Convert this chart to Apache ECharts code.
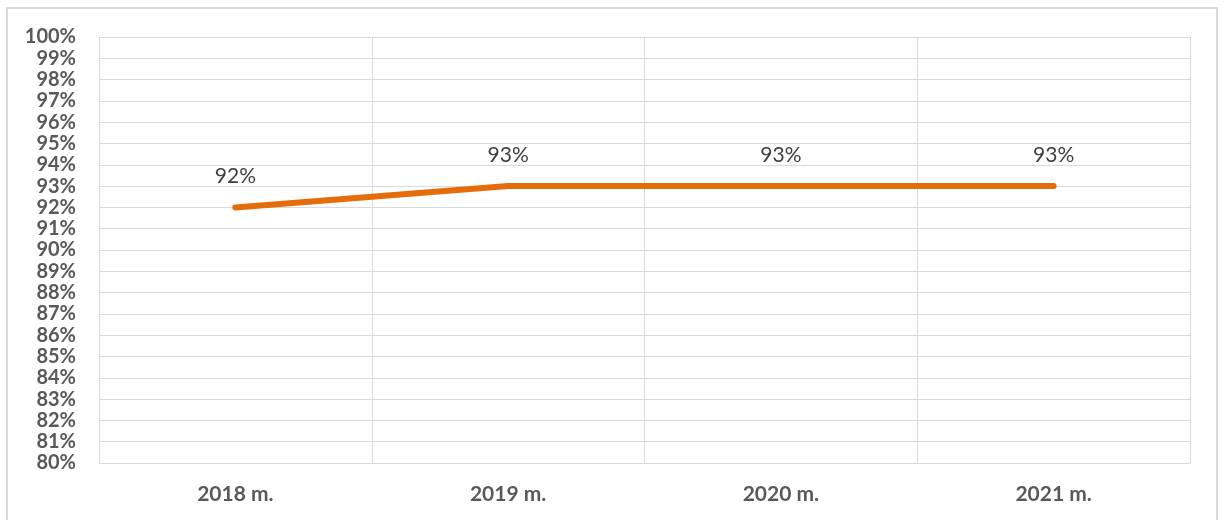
<!DOCTYPE html>
<html><head><meta charset="utf-8">
<script src="https://cdn.jsdelivr.net/npm/echarts@6/dist/echarts.min.js"></script>
<style>
html,body{margin:0;padding:0;background:#fff;}
#frame{position:absolute;left:6px;top:7px;width:1212px;height:520px;border:2px solid #d9d9d9;box-sizing:border-box;}
#c{position:absolute;left:0;top:0;width:1227px;height:520px;}
</style></head>
<body>
<div id="frame"></div>
<div id="c"></div>
<script>
const categories = ['2018 m.', '2019 m.', '2020 m.', '2021 m.'];
const values = [92, 93, 93, 93];
const yMin = 80, yMax = 100, yStep = 1;

const chart = echarts.init(document.getElementById('c'));
chart.setOption({
  animation: false,
  grid: { left: 99, right: 37, top: 37, bottom: 57 },
  xAxis: {
    type: 'category', data: categories, boundaryGap: true,
    axisLine: { lineStyle: { color: '#d9d9d9', width: 1 } },
    axisTick: { show: false },
    splitLine: { show: true, lineStyle: { color: '#d9d9d9', width: 1 } },
    axisLabel: { color: '#595959', fontFamily: 'Lato', fontWeight: 'bold', fontSize: 21, margin: 21 }
  },
  yAxis: {
    type: 'value', min: yMin, max: yMax, interval: yStep,
    axisLine: { show: false }, axisTick: { show: false },
    splitLine: { lineStyle: { color: '#d9d9d9', width: 1 } },
    axisLabel: { formatter: '{value}%', color: '#595959', fontFamily: 'Lato', fontWeight: 'bold', fontSize: 20, margin: 23 }
  },
  series: [{
    type: 'line', data: values,
    symbol: 'circle', symbolSize: 5,
    itemStyle: { color: '#E46C0A' },
    lineStyle: { color: '#E46C0A', width: 6, cap: 'round' },
    label: { show: true, position: 'top', distance: 18, formatter: '{c}%', color: '#404040', fontFamily: 'Lato', fontSize: 21 }
  }]
});
</script>
</body></html>
